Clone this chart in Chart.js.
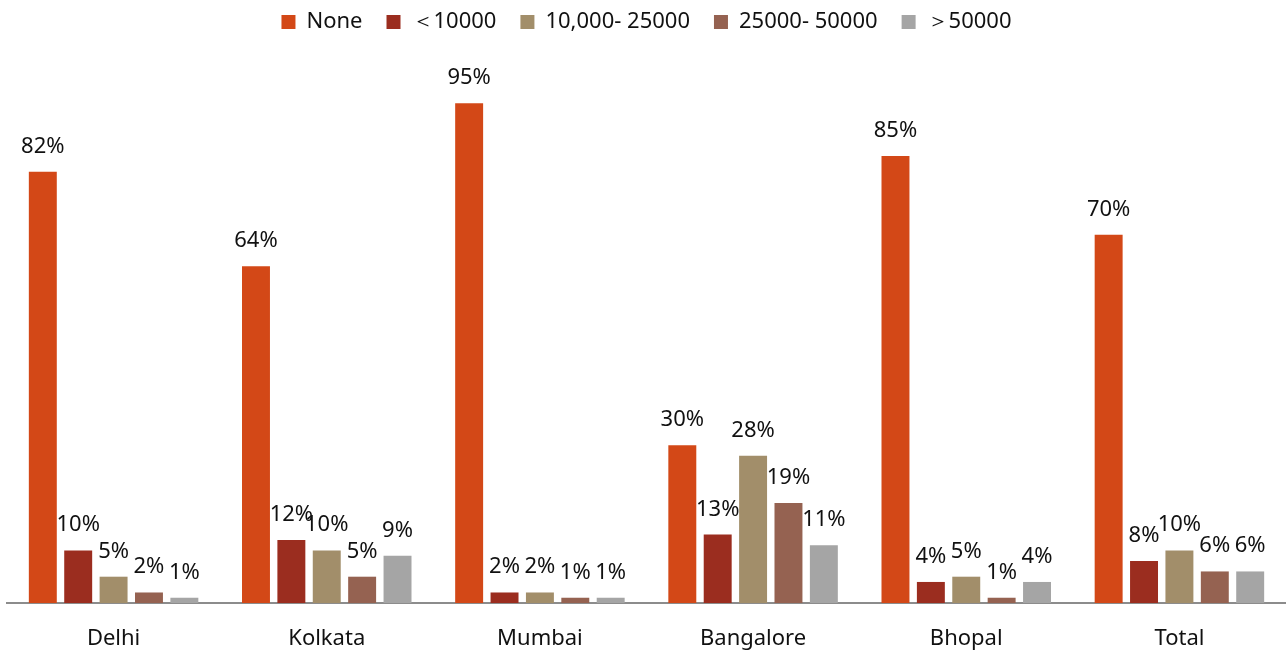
<!DOCTYPE html>
<html>
<head>
<meta charset="utf-8">
<script src="https://cdn.jsdelivr.net/npm/chart.js@4.4.1/dist/chart.umd.min.js"></script>
<style>
  html, body { margin: 0; padding: 0; background: #fff; }
  #wrap { width: 1286px; height: 652px; }
</style>
</head>
<body>
<div id="wrap"><canvas id="myChart"></canvas></div>
<script>
const cities = ["Delhi", "Kolkata", "Mumbai", "Bangalore", "Bhopal", "Total"];
const seriesNames = ["None", "＜10000", "10,000- 25000", "25000- 50000", "＞50000"];
const seriesColors = ["#D34817", "#9B2D1F", "#A28E6A", "#956251", "#A5A5A5"];
const none = [82, 64, 95, 30, 85, 70];
const under10k = [10, 12, 2, 13, 4, 8];
const from10to25k = [5, 10, 2, 28, 5, 10];
const from25to50k = [2, 5, 1, 19, 1, 6];
const over50k = [1, 9, 1, 11, 4, 6];
const allValues = [none, under10k, from10to25k, from25to50k, over50k];

const fontName = "'Noto Sans', sans-serif";

// draws the % label over each bar
const barLabels = {
  id: "barLabels",
  afterDatasetsDraw(chart) {
    const ctx = chart.ctx;
    ctx.save();
    ctx.font = "22px " + fontName;
    ctx.fillStyle = "#111";
    ctx.textAlign = "center";
    ctx.textBaseline = "alphabetic";
    chart.data.datasets.forEach((ds, i) => {
      chart.getDatasetMeta(i).data.forEach((bar, j) => {
        ctx.fillText(ds.data[j] + "%", bar.x, bar.y - 19);
      });
    });
    ctx.restore();
  }
};

// legend sits higher and leaves more room below it
const legendShift = {
  id: "legendShift",
  beforeLayout(chart) {
    const lg = chart.legend;
    if (!lg || lg._shifted) return;
    lg._shifted = true;
    const fit = lg.fit.bind(lg);
    lg.fit = function () { fit(); this.height = 77; };
    const draw = lg.draw.bind(lg);
    lg.draw = function () {
      chart.ctx.save();
      chart.ctx.translate(0, -13);
      draw();
      chart.ctx.restore();
    };
  }
};

new Chart("myChart", {
  type: "bar",
  data: {
    labels: cities,
    datasets: seriesNames.map((name, i) => ({
      label: name,
      data: allValues[i],
      backgroundColor: seriesColors[i],
      borderWidth: 0,
      categoryPercentage: 0.83,
      barPercentage: 0.79
    }))
  },
  options: {
    responsive: true,
    maintainAspectRatio: false,
    animation: false,
    layout: { padding: { left: 7, right: 0, top: 0, bottom: 0 } },
    scales: {
      x: {
        grid: { display: false, drawTicks: false },
        border: { display: true, color: "#8c8c8c", width: 2 },
        ticks: { color: "#111", font: { size: 22, family: fontName }, padding: 23 },
        afterFit(s) { s.height = 49; }
      },
      y: {
        display: false,
        min: 0,
        max: 100
      }
    },
    plugins: {
      legend: {
        position: "top",
        labels: {
          color: "#111",
          font: { size: 22, family: fontName },
          boxWidth: 14,
          boxHeight: 14,
          padding: 24
        }
      },
      tooltip: { enabled: false }
    }
  },
  plugins: [barLabels, legendShift]
});
</script>
</body>
</html>
